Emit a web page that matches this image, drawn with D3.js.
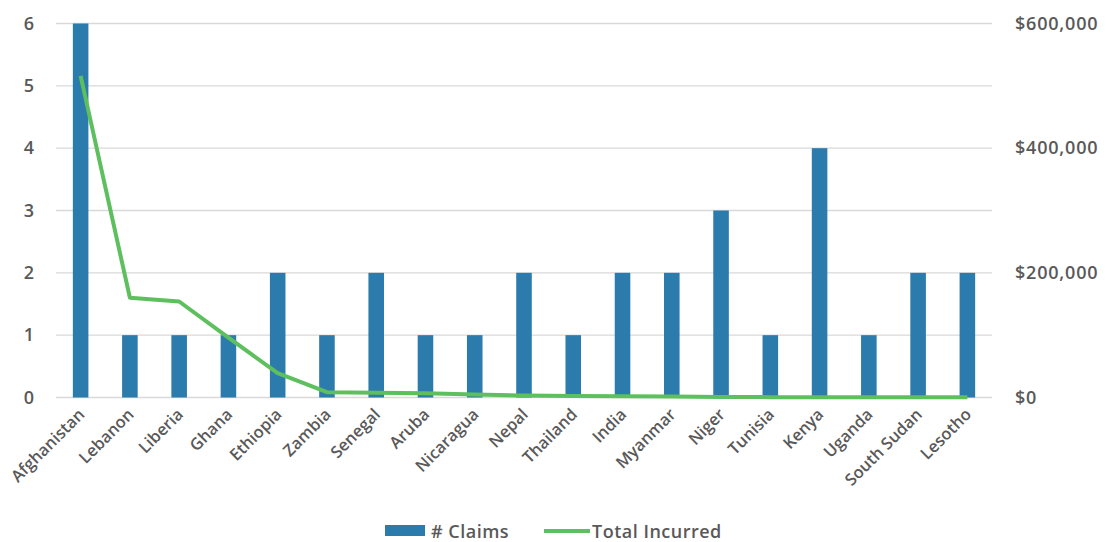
<!DOCTYPE html>
<html>
<head>
<meta charset="utf-8">
<script src="https://cdn.jsdelivr.net/npm/d3@7"></script>
<style>
  body { margin: 0; background: #fff; }
  svg text { font-family: "Open Sans", Lato, sans-serif; }
</style>
</head>
<body>
<svg id="chart" width="1113" height="542"></svg>
<script>
"use strict";
const countries = ["Afghanistan", "Lebanon", "Liberia", "Ghana", "Ethiopia", "Zambia", "Senegal", "Aruba",
  "Nicaragua", "Nepal", "Thailand", "India", "Myanmar", "Niger", "Tunisia", "Kenya", "Uganda",
  "South Sudan", "Lesotho"];
const claims = [6, 1, 1, 1, 2, 1, 2, 1, 1, 2, 1, 2, 2, 3, 1, 4, 1, 2, 2];
const incurred = [516000, 160000, 154000, 96000, 39000, 8500, 7700, 6800, 4800, 3200, 2400, 2000,
  1600, 1000, 600, 500, 400, 400, 300];
const leftTicks = [0, 1, 2, 3, 4, 5, 6];
const rightTicks = [0, 200000, 400000, 600000];

(function() {
  const svg = d3.select("#chart");
  const left = 56, right = 992, top = 23.5, bottom = 397.5;
  const grey = "#595959";

  const x = d3.scaleBand().domain(countries).range([left, right]);
  const yL = d3.scaleLinear().domain([0, 6]).range([bottom, top]);
  const yR = d3.scaleLinear().domain([0, 600000]).range([bottom, top]);

  // gridlines
  svg.append("g")
    .selectAll("line")
    .data(leftTicks)
    .join("line")
      .attr("x1", left).attr("x2", right)
      .attr("y1", d => yL(d)).attr("y2", d => yL(d))
      .attr("stroke", "#d9d9d9")
      .attr("stroke-width", 1.3);

  // bars
  const bw = x.step() * 0.316;
  svg.append("g")
    .selectAll("rect")
    .data(countries)
    .join("rect")
      .attr("x", (d) => x(d) + x.bandwidth() / 2 - bw / 2)
      .attr("y", (d, i) => yL(claims[i]))
      .attr("width", bw)
      .attr("height", (d, i) => bottom - yL(claims[i]))
      .attr("fill", "#2c7bad");

  // line
  const line = d3.line()
    .x((d, i) => x(countries[i]) + x.bandwidth() / 2)
    .y(d => yR(d));
  svg.append("path")
    .datum(incurred)
    .attr("d", line)
    .attr("fill", "none")
    .attr("stroke", "#5dbf5d")
    .attr("stroke-width", 4)
    .attr("stroke-linejoin", "round");

  function styleText(sel, size, spacing) {
    sel.attr("fill", grey)
      .style("font-family", '"Open Sans", Lato, sans-serif')
      .style("font-size", size + "px")
      .style("font-weight", 600)
      .style("letter-spacing", spacing + "px");
  }

  // left axis
  const axL = svg.append("g")
    .attr("transform", `translate(${left},0)`)
    .call(d3.axisLeft(yL).tickValues(leftTicks).tickSize(0).tickPadding(22).tickFormat(d3.format("d")));
  axL.select(".domain").remove();
  styleText(axL.selectAll("text"), 18, 0);

  // right axis
  const axR = svg.append("g")
    .attr("transform", `translate(${right},0)`)
    .call(d3.axisRight(yR).tickValues(rightTicks).tickSize(0).tickPadding(23)
      .tickFormat(d => "$" + d3.format(",")(d)));
  axR.select(".domain").remove();
  styleText(axR.selectAll("text"), 18, 0.8);

  // x axis labels
  const axX = svg.append("g")
    .attr("transform", `translate(0,${bottom})`)
    .call(d3.axisBottom(x).tickSize(0).tickPadding(0));
  axX.select(".domain").remove();
  styleText(axX.selectAll("text"), 16.5, 0);
  axX.selectAll("text")
    .attr("text-anchor", "end")
    .attr("dy", null)
    .attr("y", 0)
    .attr("transform", "translate(5,18) rotate(-45)");

  // legend
  const lg = svg.append("g").attr("transform", "translate(0,531)");
  lg.append("rect").attr("x", 385).attr("y", -6).attr("width", 40).attr("height", 11).attr("fill", "#2c7bad");
  styleText(lg.append("text").attr("x", 431).attr("y", 6.5).text("# Claims"), 18, 0.5);
  lg.append("line").attr("x1", 544).attr("x2", 590).attr("y1", 0).attr("y2", 0)
    .attr("stroke", "#5dbf5d").attr("stroke-width", 4);
  styleText(lg.append("text").attr("x", 592).attr("y", 6.5).text("Total Incurred"), 18, 0.5);
})();
</script>
</body>
</html>
